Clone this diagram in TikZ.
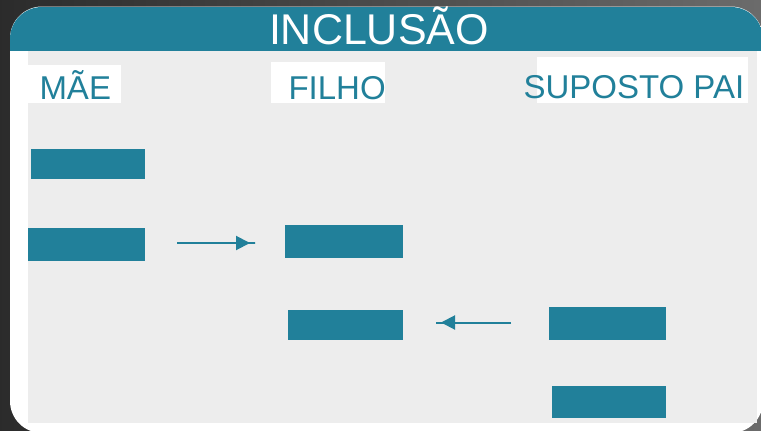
\documentclass[tikz,border=0pt]{standalone}
\usepackage{fontspec}
\setmainfont{Liberation Sans}
\usetikzlibrary{arrows.meta}
\definecolor{teal1}{HTML}{21809A}
\definecolor{panel}{HTML}{EDEDED}
\begin{document}
\begin{tikzpicture}[x=1pt,y=-1pt,
  tbox/.style={fill=teal1, draw=none, inner sep=0pt, outer sep=0pt},
  lbl/.style={text=teal1, inner sep=0pt, outer sep=0pt, anchor=base west, font=\fontsize{33}{38}\selectfont},
  hdr/.style={text=white, inner sep=0pt, outer sep=0pt, anchor=base west, font=\fontsize{43}{50}\selectfont},
  arr/.style={draw=teal1, line width=2pt, -{Triangle[length=14pt,width=14pt] Rectangle[length=6pt,width=2pt]}}]
\useasboundingbox (0,0) rectangle (761,431);
% background
\shade[left color=black!83, right color=black!58] (0,0) rectangle (761,431);
% card
\fill[white, rounded corners=32pt] (10,6.5) rectangle (763,433);
\begin{scope}
  \clip[rounded corners=32pt] (10,7) rectangle (763,433);
  \fill[teal1] (0,7) rectangle (770,50.5);
\end{scope}
\fill[panel] (28,50.5) rectangle (757,423);
% label backgrounds
\fill[white] (28,65) rectangle (121,103);
\fill[white] (271,62) rectangle (385,103);
\fill[white] (537,57) rectangle (748,103);
% texts
\node[hdr] (title) at (269,45) {INCLUSÃO};
\node[lbl] (mae) at (39.5,99) {MÃE};
\node[lbl] (filho) at (288.5,99) {FILHO};
\node[lbl] (pai) at (523.5,98.5) {SUPOSTO PAI};
% boxes
\node[tbox, minimum width=114pt, minimum height=30pt] (m1) at (88,164) {};
\node[tbox, minimum width=117pt, minimum height=33pt] (m2) at (86.5,244.5) {};
\node[tbox, minimum width=118pt, minimum height=33pt] (f1) at (344,241.5) {};
\node[tbox, minimum width=115pt, minimum height=30pt] (f2) at (345.5,325) {};
\node[tbox, minimum width=117pt, minimum height=33pt] (p1) at (607.5,323.5) {};
\node[tbox, minimum width=114pt, minimum height=32pt] (p2) at (609,402) {};
% arrows
\coordinate (a1s) at (177,243);
\coordinate (a1e) at (256,243);
\coordinate (a2s) at (511,322.5);
\coordinate (a2e) at (435,322.5);
\draw[arr] (a1s) -- (a1e);
\draw[arr] (a2s) -- (a2e);
\end{tikzpicture}
\end{document}
